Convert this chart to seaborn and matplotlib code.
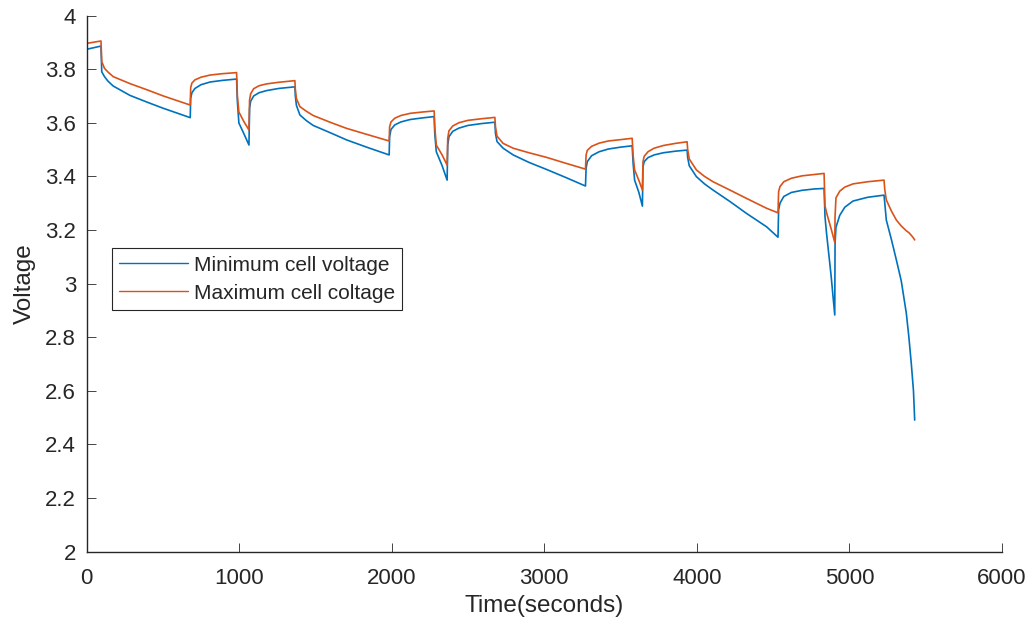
import matplotlib
matplotlib.use("Agg")
import matplotlib.pyplot as plt
import seaborn as sns
import pandas as pd

# ---- data ----
time_s = [0, 94,
          99, 117, 140, 174, 284, 400, 502, 679,
          682, 690, 710, 750, 810, 890, 983,
          988, 998, 1030, 1064,
          1068, 1075, 1095, 1130, 1180, 1260, 1365,
          1368, 1375, 1398, 1440, 1485, 1600, 1704, 1840, 1983,
          1986, 1995, 2020, 2060, 2120, 2200, 2278,
          2282, 2292, 2330, 2363,
          2367, 2375, 2400, 2440, 2500, 2590, 2676,
          2680, 2690, 2730, 2796, 2900, 3014, 3140, 3270,
          3274, 3282, 3310, 3360, 3420, 3500, 3576,
          3582, 3592, 3620, 3643,
          3647, 3655, 3680, 3720, 3780, 3860, 3936,
          3940, 3950, 3997, 4050, 4106, 4220, 4325, 4457, 4532,
          4536, 4545, 4570, 4620, 4690, 4770, 4834,
          4840, 4850, 4880, 4904,
          4906, 4912, 4937, 4970, 5024, 5120, 5227,
          5232, 5242, 5276, 5308, 5340, 5373, 5390, 5406, 5420, 5428]

min_cell_v = [3.874, 3.886,
              3.790, 3.772, 3.755, 3.737, 3.702, 3.676, 3.654, 3.619,
              3.691, 3.712, 3.728, 3.742, 3.752, 3.758, 3.763,
              3.680, 3.599, 3.560, 3.517,
              3.654, 3.680, 3.700, 3.712, 3.720, 3.728, 3.734,
              3.700, 3.665, 3.629, 3.608, 3.590, 3.562, 3.536, 3.508, 3.480,
              3.548, 3.575, 3.592, 3.603, 3.612, 3.618, 3.623,
              3.560, 3.492, 3.440, 3.386,
              3.517, 3.548, 3.568, 3.580, 3.590, 3.597, 3.602,
              3.560, 3.530, 3.505, 3.480, 3.452, 3.426, 3.396, 3.364,
              3.430, 3.455, 3.477, 3.492, 3.502, 3.509, 3.514,
              3.450, 3.386, 3.340, 3.289,
              3.436, 3.455, 3.470, 3.480, 3.488, 3.494, 3.498,
              3.470, 3.440, 3.399, 3.372, 3.349, 3.305, 3.262, 3.212, 3.173,
              3.275, 3.300, 3.325, 3.340, 3.348, 3.353, 3.355,
              3.250, 3.189, 3.030, 2.883,
              3.150, 3.210, 3.255, 3.285, 3.308, 3.322, 3.330,
              3.300, 3.237, 3.163, 3.088, 3.010, 2.890, 2.800, 2.700, 2.600, 2.491]

max_cell_v = [3.896, 3.905,
              3.828, 3.803, 3.789, 3.772, 3.746, 3.722, 3.700, 3.666,
              3.731, 3.748, 3.760, 3.770, 3.778, 3.783, 3.787,
              3.700, 3.640, 3.605, 3.573,
              3.685, 3.708, 3.727, 3.738, 3.745, 3.751, 3.757,
              3.725, 3.690, 3.660, 3.643, 3.627, 3.601, 3.579, 3.556, 3.532,
              3.585, 3.603, 3.617, 3.627, 3.635, 3.640, 3.644,
              3.585, 3.517, 3.480, 3.442,
              3.542, 3.570, 3.588, 3.600, 3.609, 3.615, 3.620,
              3.585, 3.550, 3.523, 3.505, 3.488, 3.471, 3.449, 3.427,
              3.480, 3.497, 3.512, 3.524, 3.532, 3.537, 3.542,
              3.480, 3.424, 3.385, 3.349,
              3.455, 3.475, 3.492, 3.505, 3.515, 3.523, 3.529,
              3.500, 3.465, 3.424, 3.400, 3.380, 3.348, 3.318, 3.281, 3.264,
              3.343, 3.362, 3.380, 3.393, 3.402, 3.407, 3.411,
              3.290, 3.265, 3.205, 3.154,
              3.250, 3.320, 3.345, 3.360, 3.372, 3.380, 3.386,
              3.350, 3.312, 3.270, 3.237, 3.215, 3.197, 3.190, 3.180, 3.170, 3.163]

series_names = ["Minimum cell voltage", "Maximum cell coltage"]
series_colors = ["#0072BD", "#D95319"]
x_ticks = [0, 1000, 2000, 3000, 4000, 5000, 6000]
y_ticks = [2, 2.2, 2.4, 2.6, 2.8, 3, 3.2, 3.4, 3.6, 3.8, 4]

df = pd.concat([
    pd.DataFrame({"Time": time_s, "Voltage": min_cell_v, "Series": series_names[0]}),
    pd.DataFrame({"Time": time_s, "Voltage": max_cell_v, "Series": series_names[1]}),
], ignore_index=True)

sns.set_theme(style="ticks")
plt.rcParams["font.family"] = ["Liberation Sans", "DejaVu Sans"]

fig = plt.figure(figsize=(10.34, 6.28), dpi=100)
ax = fig.add_axes([0.0838, 0.1215, 0.8852, 0.8538])

sns.lineplot(data=df, x="Time", y="Voltage", hue="Series",
             palette=dict(zip(series_names, series_colors)),
             estimator=None, sort=False, linewidth=1.2, ax=ax)

ax.set_xlim(0, 6000)
ax.set_ylim(2, 4)
ax.set_xticks(x_ticks)
ax.set_xticklabels([f"{v:g}" for v in x_ticks])
ax.set_yticks(y_ticks)
ax.set_yticklabels([f"{v:g}" for v in y_ticks])

for s in ["top", "right"]:
    ax.spines[s].set_visible(False)
for s in ["left", "bottom"]:
    ax.spines[s].set_color("#262626")
    ax.spines[s].set_linewidth(1.0)

ax.tick_params(axis="both", direction="in", length=6.5, width=0.6,
               colors="#262626", labelsize=16)
ax.tick_params(axis="x", pad=12)
ax.tick_params(axis="y", pad=7.5)

ax.set_xlabel("Time(seconds)", fontsize=17.5, color="#262626", labelpad=4)
ax.set_ylabel("Voltage", fontsize=17.5, color="#262626", labelpad=7)

leg = ax.legend(loc="upper left",
                bbox_to_anchor=(111.7 / 1034, 1 - 248.3 / 628),
                bbox_transform=fig.transFigure,
                borderaxespad=0, fontsize=15, frameon=True, fancybox=False,
                handlelength=3.3, handletextpad=0.3, borderpad=0.35,
                labelspacing=0.44, title=None)
leg.get_frame().set_edgecolor("#262626")
leg.get_frame().set_linewidth(0.8)
leg.get_frame().set_alpha(1)
for line in leg.get_lines():
    line.set_linewidth(1.0)

fig.savefig("out.png", dpi=100)
